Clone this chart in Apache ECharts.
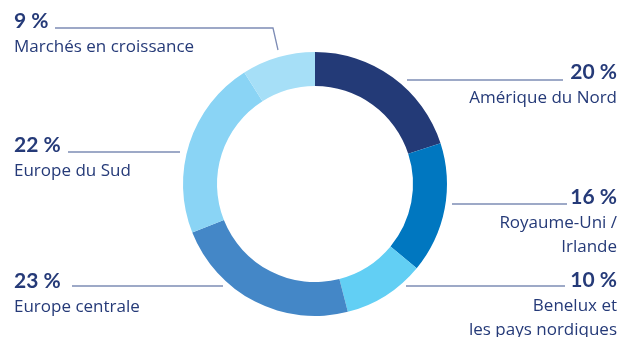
<!DOCTYPE html>
<html>
<head>
<meta charset="utf-8">
<script src="https://cdn.jsdelivr.net/npm/echarts@6/dist/echarts.min.js"></script>
<style>html,body{margin:0;padding:0;background:#fff}#c{width:621px;height:337px}</style>
</head>
<body>
<div id="c"></div>
<script>
const categories = ['Amérique du Nord', 'Royaume-Uni /\nIrlande', 'Benelux et\nles pays nordiques', 'Europe centrale', 'Europe du Sud', 'Marchés en croissance'];
const values = [20, 16, 10, 23, 22, 9];
const colors = ['#233a77', '#0077c0', '#62cff4', '#4487c7', '#8ad4f5', '#a6dff7'];

// label placement (layout only)
const labelPos = [
  { x: 617, y: 58, align: 'right', line: [[407, 80], [485, 80], [563, 80]] },
  { x: 617, y: 183, align: 'right', line: [[452, 204], [510, 204], [567, 204]] },
  { x: 617, y: 266, align: 'right', line: [[406, 286], [485, 286], [565, 286]] },
  { x: 14, y: 267, align: 'left', line: [[223, 286], [150, 286], [72, 286]] },
  { x: 14, y: 131, align: 'left', line: [[180, 152], [120, 152], [68, 152]] },
  { x: 14, y: 7, align: 'left', line: [[278, 50], [273, 28], [55, 28]] }
];

const chart = echarts.init(document.getElementById('c'));
const TXT = '#253a78';
chart.setOption({
  animation: false,
  series: [{
    type: 'pie',
    center: [315, 184],
    radius: [98, 132],
    startAngle: 90,
    clockwise: true,
    silent: true,
    data: categories.map((n, i) => ({
      name: n,
      value: values[i],
      itemStyle: { color: colors[i] },
      label: { align: labelPos[i].align }
    })),
    label: {
      show: true,
      formatter: p => '{p|' + p.value + ' %}\n{n|' + p.name.split('\n').join('}\n{n|') + '}',
      rich: {
        p: { fontFamily: 'Lato', fontWeight: 'bold', fontSize: 21, color: TXT, lineHeight: 28 },
        n: { fontFamily: 'Open Sans', fontSize: 17, color: TXT, lineHeight: 24 }
      }
    },
    labelLine: { show: true, lineStyle: { color: '#7d8cb5', width: 1.3 } },
    labelLayout: function (params) {
      const L = labelPos[params.dataIndex];
      return { x: L.x, y: L.y, align: L.align, verticalAlign: 'top', labelLinePoints: L.line };
    }
  }]
});
</script>
</body>
</html>
